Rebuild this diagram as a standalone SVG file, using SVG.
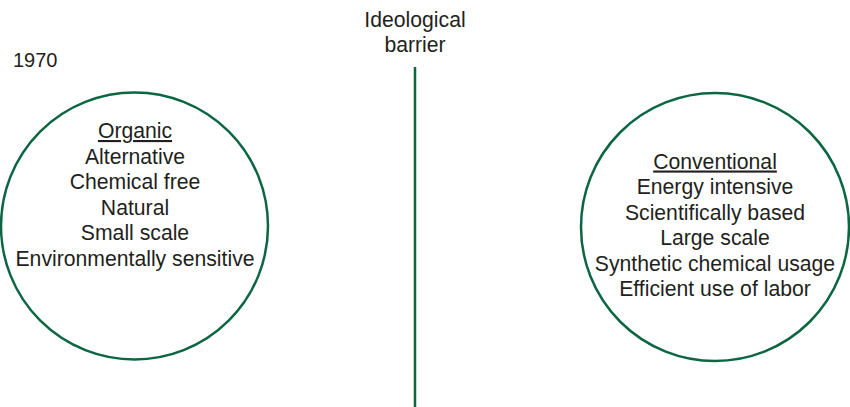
<svg xmlns="http://www.w3.org/2000/svg" width="850" height="407" viewBox="0 0 850 407">
<style>
.c{fill:#fff;stroke:#0d6642;stroke-width:2.5}
.t{font-family:"Liberation Sans",Arial,sans-serif;font-size:21.2px;fill:#231f20;text-anchor:middle}
.l{font-family:"Liberation Sans",Arial,sans-serif;font-size:20px;fill:#231f20}
</style>
<rect width="850" height="407" fill="#fff"/>
<g id="connectors">
<line x1="415" y1="67" x2="415" y2="407" stroke="#0d6642" stroke-width="2.5"/>
</g>
<g id="barrier-label">
<text class="t" x="415" y="27">Ideological</text>
<text class="t" x="415" y="52">barrier</text>
</g>
<g id="year">
<text class="l" x="13" y="67">1970</text>
</g>
<g id="organic">
<circle class="c" cx="134.5" cy="226" r="133.5"/>
<text class="t" x="135" y="138" text-decoration="underline">Organic</text>
<text class="t" x="135" y="163.5">Alternative</text>
<text class="t" x="135" y="189">Chemical free</text>
<text class="t" x="135" y="214.5">Natural</text>
<text class="t" x="135" y="240">Small scale</text>
<text class="t" x="135" y="265.5">Environmentally sensitive</text>
</g>
<g id="conventional">
<circle class="c" cx="715" cy="227" r="134"/>
<text class="t" x="715" y="168.5" text-decoration="underline">Conventional</text>
<text class="t" x="715" y="194">Energy intensive</text>
<text class="t" x="715" y="219.5">Scientifically based</text>
<text class="t" x="715" y="245">Large scale</text>
<text class="t" x="715" y="270.5">Synthetic chemical usage</text>
<text class="t" x="715" y="296">Efficient use of labor</text>
</g>
</svg>
